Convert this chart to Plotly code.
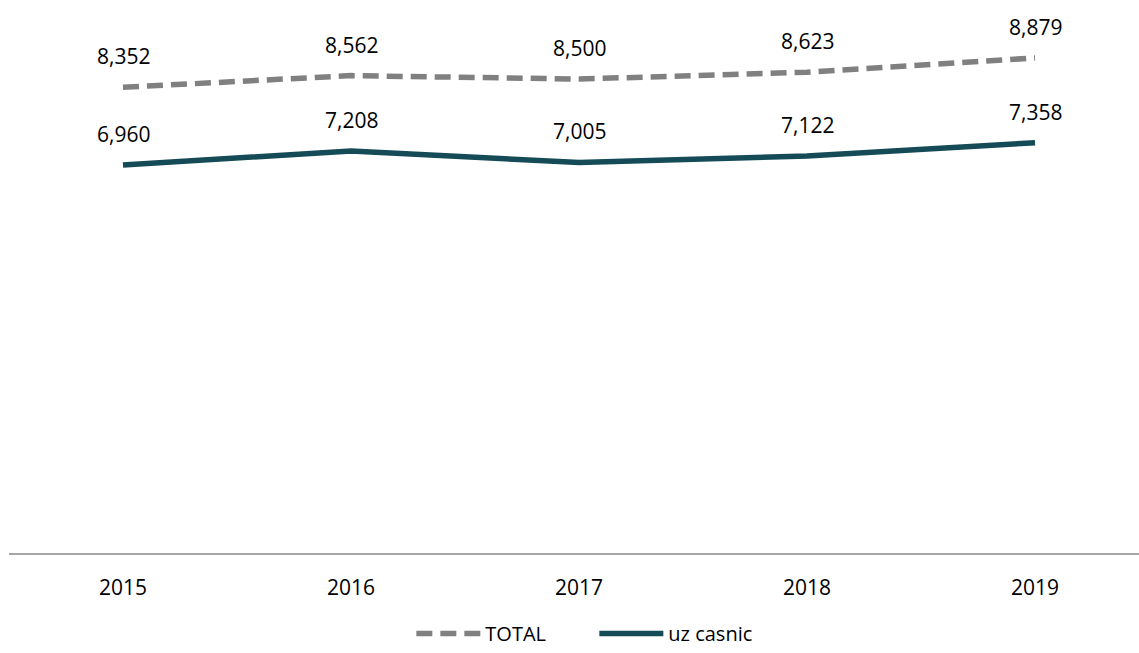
import plotly.graph_objects as go

years = ["2015", "2016", "2017", "2018", "2019"]
total = [8352, 8562, 8500, 8623, 8879]
uz_casnic = [6960, 7208, 7005, 7122, 7358]

FONT = "Open Sans"

fig = go.Figure()
fig.add_trace(go.Scatter(
    x=years, y=total, name="TOTAL", mode="lines",
    line=dict(color="#808080", width=5.5, dash="16px,8px"),
))
fig.add_trace(go.Scatter(
    x=years, y=uz_casnic, name="uz casnic", mode="lines",
    line=dict(color="#154b56", width=5.5),
))

# data labels above each point (category axis -> use the index for x)
for series in (total, uz_casnic):
    for i, val in enumerate(series):
        fig.add_annotation(
            x=i, y=val, text=f"{val:,}", showarrow=False,
            yshift=31, yanchor="middle",
            font=dict(family=FONT, size=21, color="#000000"),
        )

fig.update_layout(
    width=1139, height=653,
    margin=dict(l=9, r=0, t=0, b=90),
    paper_bgcolor="white", plot_bgcolor="white",
    showlegend=True,
    legend=dict(
        orientation="h", x=0.518, xanchor="center", y=-0.146, yanchor="middle",
        font=dict(family=FONT, size=20, color="#000000"),
        itemwidth=64, entrywidth=104,
    ),
    font=dict(family=FONT),
)
fig.update_xaxes(
    type="category", range=[-0.5, 4.456],
    showgrid=False, zeroline=False,
    showline=True, linecolor="#a6a6a6", linewidth=2,
    ticks="", ticklabelstandoff=15,
    tickfont=dict(family=FONT, size=21, color="#000000"),
)
fig.update_yaxes(range=[0, 9918], visible=False)

fig.write_html("out.html", config={"displayModeBar": False},
               post_script="document.body.style.margin='0';")
